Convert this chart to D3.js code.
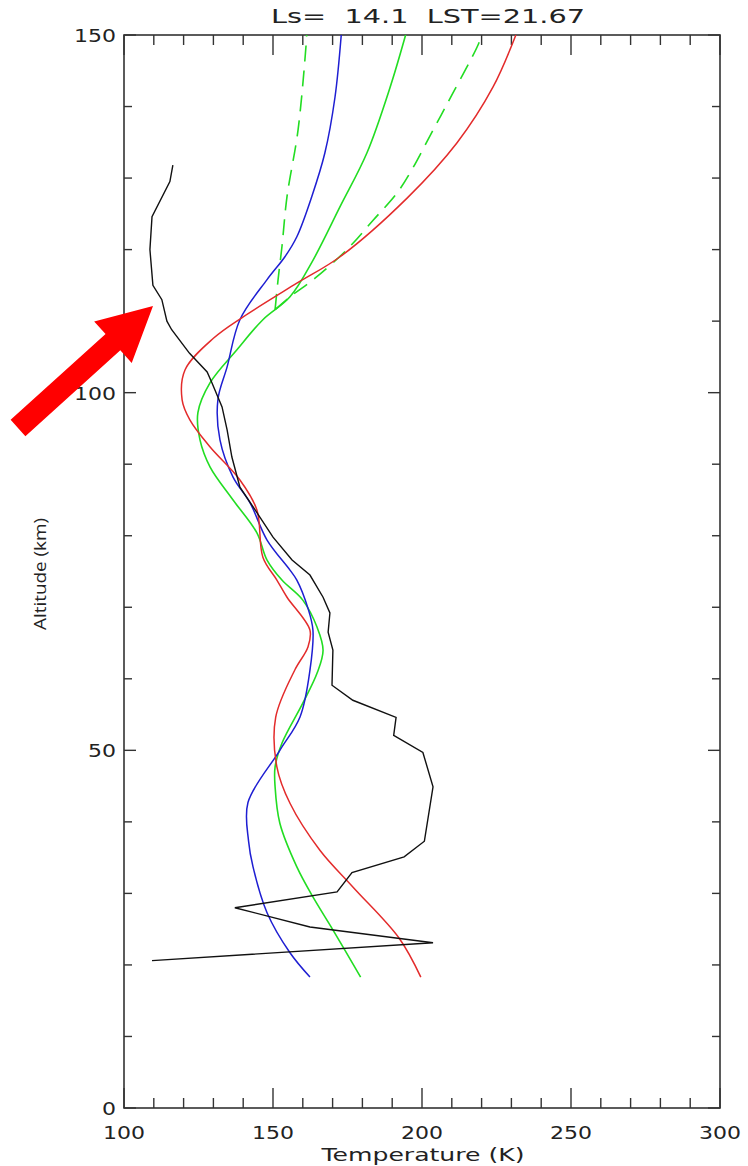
<!DOCTYPE html>
<html><head><meta charset="utf-8">
<script src="https://cdn.jsdelivr.net/npm/d3@7"></script>
<style>html,body{margin:0;padding:0;background:#fff;}svg{display:block;}</style>
</head><body>
<svg id="chart" width="748" height="1166"></svg>
<script>
// ---- data (altitude km, temperature K) ----
const titleText = "Ls=  14.1  LST=21.67";
const xLabel = "Temperature (K)";
const yLabel = "Altitude (km)";
const xTicks = [100, 150, 200, 250, 300];
const yTicks = [0, 50, 100, 150];

const obsAlt = [131.8,129.5,124.6,120,115,113,110,108.8,105.5,102.9,101.4,98,94.8,91,86.8,83.6,79.8,76.6,74.5,71.4,69.2,66.5,64,59.1,57,54.6,52.1,49.7,44.9,37.3,35.1,32.9,30.2,28,25.3,23.1,20.6];
const obsT   = [116.4,115.4,109.4,108.7,109.7,112.7,114.4,116,122,127.9,129.5,132.9,134.6,136.2,138.9,144,150,156.4,162.4,166.8,169.1,168.5,170.1,169.8,176.8,191.3,190.5,200.3,203.7,200.8,194,176.5,171.5,137.2,162.4,203.7,109.4];

const redAlt = [18.3,23.7,30.9,36,42.6,47.7,54.6,61.3,64.4,66.8,71.4,73.8,77,83.6,87.8,92.4,96.2,99,103.2,107.6,110.6,115.3,119,127.2,134.9,142.7,150];
const redT   = [199.6,192.4,176.8,165.8,155.7,151.3,150.9,157.4,161.7,162.4,154.7,151.3,146.6,144.6,138.9,128.9,122.1,119.5,120.5,130,140,158,172.5,195,211.7,223.8,231.5];

const blueAlt = [18.3,21.7,27.3,33.7,37.3,42.7,50,54.7,61.2,66.8,69.9,73.8,75.2,79.4,84.6,88.2,93.4,99,103.6,110.2,115.8,119,121.8,127.4,133.5,141.3,150];
const blueT   = [162.4,155.7,148,143.3,141.8,141.6,152.3,159.1,162.4,163.4,161.7,158,155.7,148,142.3,136.6,132.2,131.5,134.6,138.9,148,154,158,163,167.4,170.8,172.9];

const greenAlt = [18.3,24.9,29.5,33.7,39.8,44.9,47.7,51,56.6,60.8,64,67.2,71,73.8,76.6,80.4,85,89.6,93.4,97.2,101.4,106,110.2,113.4,118.5,126,133.5,142.7,150];
const greenT   = [179.4,170.1,163.4,158,152.3,150.7,150.7,153,160,164.8,166.8,164.8,160,153,148,144.6,136.6,128.9,125.5,124.8,128.9,137.9,146.6,155.7,163.4,172.5,181.5,189.3,194.5];

const dashLoAlt = [111.6,115.8,120.4,127.4,136.7,148.6,150];
const dashLoT   = [150.7,151.7,153,154.7,158.4,161.1,161.3];
const dashHiAlt = [111.6,113.4,116,120,124.1,127.9,131.1,136.7,141.9,148.6,150];
const dashHiT   = [150.7,155.7,164.1,174.8,183.6,191.6,196.5,203.7,210.4,218.8,220];

// ---- layout ----
const svg = d3.select("#chart");
const X0 = 124, X1 = 720, Y0 = 1108, Y1 = 35;
const x = d3.scaleLinear().domain([100, 300]).range([X0, X1]);
const y = d3.scaleLinear().domain([0, 150]).range([Y0, Y1]);
const axisColor = "#333";

// ticks
const g = svg.append("g");
const xMinor = d3.range(100, 301, 10);
const yMinor = d3.range(0, 151, 10);
xMinor.forEach(v => {
  const len = (v % 50 === 0) ? 20 : 10;
  g.append("line").attr("x1", x(v)).attr("x2", x(v)).attr("y1", Y0).attr("y2", Y0 - len)
    .attr("stroke", axisColor).attr("stroke-width", 1.4);
  g.append("line").attr("x1", x(v)).attr("x2", x(v)).attr("y1", Y1).attr("y2", Y1 + len)
    .attr("stroke", axisColor).attr("stroke-width", 1.4);
});
yMinor.forEach(v => {
  const len = (v % 50 === 0) ? 12 : 8;
  g.append("line").attr("x1", X0).attr("x2", X0 + len).attr("y1", y(v)).attr("y2", y(v))
    .attr("stroke", axisColor).attr("stroke-width", 1.4);
  g.append("line").attr("x1", X1).attr("x2", X1 - len).attr("y1", y(v)).attr("y2", y(v))
    .attr("stroke", axisColor).attr("stroke-width", 1.4);
});
g.append("rect").attr("x", X0).attr("y", Y1).attr("width", X1 - X0).attr("height", Y0 - Y1)
  .attr("fill", "none").attr("stroke", axisColor).attr("stroke-width", 1.6);

const font = "DejaVu Sans";
xTicks.forEach(v => {
  svg.append("text").attr("x", x(v)).attr("y", Y0 + 31).attr("text-anchor", "middle")
    .attr("font-family", font).attr("font-size", 18).attr("fill", "#222")
    .attr("textLength", 42).attr("lengthAdjust", "spacingAndGlyphs").text(v);
});
yTicks.forEach(v => {
  const s = String(v);
  svg.append("text").attr("x", X0 - 8).attr("y", y(v) + 7).attr("text-anchor", "end")
    .attr("font-family", font).attr("font-size", 18).attr("fill", "#222")
    .attr("textLength", 14 * s.length).attr("lengthAdjust", "spacingAndGlyphs").text(s);
});
svg.append("text").attr("x", 423).attr("y", 1161).attr("text-anchor", "middle")
  .attr("font-family", font).attr("font-size", 18).attr("fill", "#222")
  .attr("textLength", 203).attr("lengthAdjust", "spacingAndGlyphs").text(xLabel);
svg.append("text").attr("transform", "translate(46,574) rotate(-90)").attr("text-anchor", "middle")
  .attr("font-family", "Open Sans").attr("font-size", 16).attr("fill", "#222")
  .attr("textLength", 112).attr("lengthAdjust", "spacingAndGlyphs").text(yLabel);
svg.append("text").attr("x", 428).attr("y", 23).attr("text-anchor", "middle")
  .attr("font-family", font).attr("font-size", 19).attr("fill", "#222")
  .style("white-space", "pre").attr("xml:space", "preserve")
  .attr("textLength", 314).attr("lengthAdjust", "spacingAndGlyphs").text(titleText);

// ---- lines ----
function zipPts(alt, t) { return alt.map((a, i) => [t[i], a]); }
const smooth = d3.line().x(d => x(d[0])).y(d => y(d[1])).curve(d3.curveCatmullRom.alpha(0.5));
const straight = d3.line().x(d => x(d[0])).y(d => y(d[1]));

const plot = svg.append("g");
plot.append("path").attr("d", smooth(zipPts(dashLoAlt, dashLoT))).attr("fill", "none")
  .attr("stroke", "#22dd22").attr("stroke-width", 1.6).attr("stroke-dasharray", "16,9");
plot.append("path").attr("d", smooth(zipPts(dashHiAlt, dashHiT))).attr("fill", "none")
  .attr("stroke", "#22dd22").attr("stroke-width", 1.6).attr("stroke-dasharray", "16,9");
plot.append("path").attr("d", smooth(zipPts(greenAlt, greenT))).attr("fill", "none")
  .attr("stroke", "#22dd22").attr("stroke-width", 1.6);
plot.append("path").attr("d", smooth(zipPts(blueAlt, blueT))).attr("fill", "none")
  .attr("stroke", "#1e1ed2").attr("stroke-width", 1.5);
plot.append("path").attr("d", smooth(zipPts(redAlt, redT))).attr("fill", "none")
  .attr("stroke", "#e32b2b").attr("stroke-width", 1.5);
plot.append("path").attr("d", straight(zipPts(obsAlt, obsT))).attr("fill", "none")
  .attr("stroke", "#111").attr("stroke-width", 1.4).attr("stroke-linejoin", "miter");

// ---- annotation arrow ----
const tail = [18, 428], tip = [153, 306];
const headLen = 54, headHalf = 28, shaftHalf = 11;
const dx = tip[0] - tail[0], dy = tip[1] - tail[1], L = Math.hypot(dx, dy);
const u = [dx / L, dy / L], n = [-u[1], u[0]];
const hb = [tip[0] - u[0] * headLen, tip[1] - u[1] * headLen];
const P = (p, k) => [p[0] + n[0] * k, p[1] + n[1] * k];
const arrowPts = [P(tail, shaftHalf), P(hb, shaftHalf), P(hb, headHalf), tip,
                  P(hb, -headHalf), P(hb, -shaftHalf), P(tail, -shaftHalf)];
svg.append("path").attr("d", "M" + arrowPts.map(p => p.join(",")).join("L") + "Z").attr("fill", "#ff0000");
</script>
</body></html>
